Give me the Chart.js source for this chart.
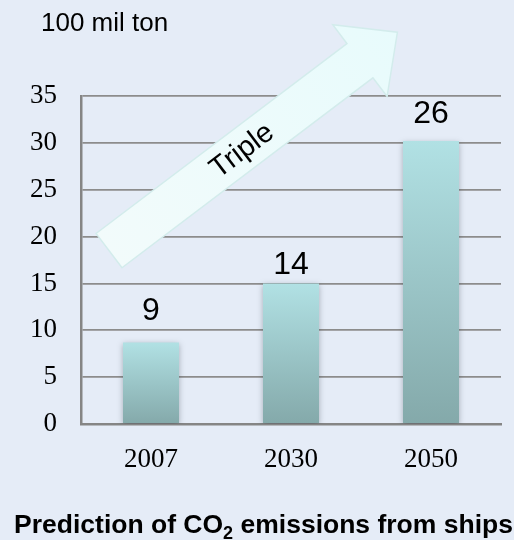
<!DOCTYPE html>
<html>
<head>
<meta charset="utf-8">
<script src="https://cdn.jsdelivr.net/npm/chart.js@4/dist/chart.umd.min.js"></script>
<style>
  html, body { margin: 0; padding: 0; background: #e5ecf7; }
  #wrap { width: 514px; height: 540px; }
</style>
</head>
<body>
<div id="wrap"><canvas id="chart" width="514" height="540"></canvas></div>
<script>
// Chart data
const years = ['2007', '2030', '2050'];
const barValues = [8.7, 15, 30.2];      // bar heights as drawn
const valueLabels = ['9', '14', '26'];  // numbers printed above bars
const yTicks = [0, 5, 10, 15, 20, 25, 30, 35];
const unitLabel = '100 mil ton';
const arrowLabel = 'Triple';

// Background fill
const bgPlugin = {
    id: 'bg',
    beforeDraw(chart) {
        const ctx = chart.ctx;
        ctx.save();
        ctx.fillStyle = '#e5ecf7';
        ctx.fillRect(0, 0, chart.width, chart.height);
        ctx.restore();
    }
};

// Big "Triple" arrow behind the bars
const arrowPlugin = {
    id: 'arrow',
    beforeDatasetsDraw(chart) {
        const { ctx, scales: { x, y } } = chart;
        const x0 = x.getPixelForValue(-0.3), y0 = y.getPixelForValue(18.5);
        const x1 = x.getPixelForValue(1.76), y1 = y.getPixelForValue(41.8);
        const len = Math.hypot(x1 - x0, y1 - y0);
        const ang = Math.atan2(y1 - y0, x1 - x0);
        const hw = 21.5, headStart = len - 47, headHw = 45;

        ctx.save();
        ctx.translate(x0, y0);
        ctx.rotate(ang);
        ctx.beginPath();
        ctx.moveTo(0, -hw);
        ctx.lineTo(headStart, -hw);
        ctx.lineTo(headStart, -headHw);
        ctx.lineTo(len, 0);
        ctx.lineTo(headStart, headHw);
        ctx.lineTo(headStart, hw);
        ctx.lineTo(0, hw);
        ctx.closePath();
        const g = ctx.createLinearGradient(0, 0, len, 0);
        g.addColorStop(0, '#f2fbfb');
        g.addColorStop(1, '#e8fbfc');
        ctx.fillStyle = g;
        ctx.fill();
        ctx.strokeStyle = '#d3ecec';
        ctx.lineWidth = 1.5;
        ctx.stroke();

        ctx.fillStyle = '#000';
        ctx.font = '29px "Liberation Sans", Arial, sans-serif';
        ctx.textAlign = 'center';
        ctx.textBaseline = 'middle';
        ctx.fillText(arrowLabel, len * 0.46, 1);
        ctx.restore();
    }
};

// Soft shadow under the bars
const shadowPlugin = {
    id: 'barShadow',
    beforeDatasetDraw(chart) {
        const ctx = chart.ctx;
        ctx.save();
        ctx.shadowColor = 'rgba(40, 50, 60, 0.35)';
        ctx.shadowBlur = 6;
        ctx.shadowOffsetY = 2;
    },
    afterDatasetDraw(chart) {
        chart.ctx.restore();
    }
};

// Value labels, unit label and title
const textPlugin = {
    id: 'texts',
    afterDatasetsDraw(chart) {
        const ctx = chart.ctx;
        const meta = chart.getDatasetMeta(0);
        const labelGap = [22, 9, 18];
        ctx.save();
        ctx.fillStyle = '#000';
        ctx.textAlign = 'center';
        ctx.textBaseline = 'alphabetic';
        ctx.font = '32px "Liberation Sans", Arial, sans-serif';
        meta.data.forEach((bar, i) => {
            ctx.fillText(valueLabels[i], bar.x, bar.y - labelGap[i]);
        });

        ctx.textAlign = 'left';
        ctx.font = '26px "Liberation Sans", Arial, sans-serif';
        ctx.fillText(unitLabel, 41, 31);

        // Title with subscript 2
        const big = 'bold 26.5px "Liberation Sans", Arial, sans-serif';
        const small = 'bold 18px "Liberation Sans", Arial, sans-serif';
        const parts = [
            { t: 'Prediction of CO', f: big, dy: 0 },
            { t: '2', f: small, dy: 6 },
            { t: ' emissions from ships', f: big, dy: 0 }
        ];
        let total = 0;
        parts.forEach(p => { ctx.font = p.f; p.w = ctx.measureText(p.t).width; total += p.w; });
        let px = 263.5 - total / 2;
        const base = 533;
        parts.forEach(p => {
            ctx.font = p.f;
            ctx.fillText(p.t, px, base + p.dy);
            px += p.w;
        });
        ctx.restore();
    }
};

const ctx = document.getElementById('chart').getContext('2d');

new Chart(ctx, {
    type: 'bar',
    data: {
        labels: years,
        datasets: [{
            data: barValues,
            backgroundColor: function (context) {
                const chart = context.chart;
                const ys = chart.scales.y;
                if (!ys || context.dataIndex === undefined) return '#a0cccc';
                const top = ys.getPixelForValue(barValues[context.dataIndex]);
                const bottom = ys.getPixelForValue(0);
                if (!isFinite(top) || !isFinite(bottom)) return '#a0cccc';
                const g = chart.ctx.createLinearGradient(0, top, 0, bottom);
                g.addColorStop(0, '#b1e1e4');
                g.addColorStop(1, '#84a9aa');
                return g;
            },
            borderWidth: 0,
            barPercentage: 0.4,
            categoryPercentage: 1
        }]
    },
    options: {
        responsive: false,
        animation: false,
        layout: {
            padding: { top: 96, right: 13, left: 0, bottom: 0 }
        },
        plugins: {
            legend: { display: false },
            tooltip: { enabled: false },
            title: { display: false }
        },
        scales: {
            x: {
                offset: true,
                grid: { display: false, drawTicks: false },
                border: { color: '#858585', width: 2.5 },
                ticks: {
                    color: '#000',
                    padding: 20,
                    font: { family: '"Liberation Serif", "Times New Roman", serif', size: 27 }
                },
                afterFit: function (scale) {
                    scale.height = 116;
                }
            },
            y: {
                min: 0,
                max: 35,
                afterBuildTicks: function (scale) {
                    scale.ticks = yTicks.map(v => ({ value: v }));
                },
                grid: { color: '#8c8c8c', lineWidth: 1.8, drawTicks: false },
                border: { color: '#858585', width: 2.5 },
                ticks: {
                    color: '#000',
                    padding: 24,
                    font: { family: '"Liberation Serif", "Times New Roman", serif', size: 27 }
                },
                afterFit: function (scale) {
                    scale.width = 81;
                }
            }
        }
    },
    plugins: [bgPlugin, arrowPlugin, shadowPlugin, textPlugin]
});
</script>
</body>
</html>
